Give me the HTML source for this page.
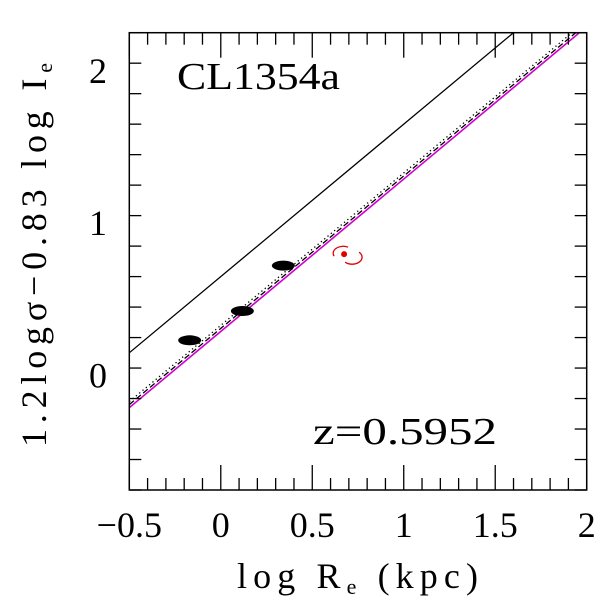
<!DOCTYPE html>
<html><head><meta charset="utf-8"><style>
html,body{margin:0;padding:0;background:#fff;width:600px;height:600px;overflow:hidden}
text{font-family:"Liberation Serif",serif;fill:#000}
</style></head><body>
<svg id="chart" width="600" height="600" viewBox="0 0 600 600" xmlns="http://www.w3.org/2000/svg">
<defs><clipPath id="clip"><rect x="129.3" y="32.7" width="457.4" height="457.3"/></clipPath></defs>
<g id="lines" clip-path="url(#clip)"></g>
<g id="pts"></g>
<g id="axes"></g>
<text x="177" y="89" font-size="38" textLength="163" lengthAdjust="spacingAndGlyphs">CL1354a</text>
<text x="313" y="444" font-size="38" textLength="184" lengthAdjust="spacingAndGlyphs">z=0.5952</text>
<text x="237" y="588" font-size="36" textLength="241" lengthAdjust="spacing">log R<tspan font-size="22" dy="6">e</tspan><tspan dy="-6"> (kpc)</tspan></text>
<text transform="translate(46,447) rotate(-90)" font-size="36" textLength="384" lengthAdjust="spacing">1.2logσ−0.83 log I<tspan font-size="22" dy="6">e</tspan></text>
</svg>
<script>
const xTicks=[-0.5,0,0.5,1,1.5,2];
const xTickLabels=["−0.5","0","0.5","1","1.5","2"];
const yTicks=[0,1,2];
const yTickLabels=["0","1","2"];
const lineOffsets=[0.65,0.33,0.31,0.29]; // y = x + offset
const lineStyles=["solid","dotted","dashed","magenta"];
const galX=[-0.17,0.118,0.342];
const galY=[0.232,0.424,0.722];
const spiralX=[0.674];
const spiralY=[0.797];
const X0=-0.5,X1=2.0,Y0=-0.75,Y1=2.25;
const L=129.3,R=586.7,T=32.7,B=490;
const sx=v=>L+(v-X0)/(X1-X0)*(R-L);
const sy=v=>B-(v-Y0)/(Y1-Y0)*(B-T);
const NS="http://www.w3.org/2000/svg";
function mk(tag,attrs,parent){const e=document.createElementNS(NS,tag);for(const k in attrs)e.setAttribute(k,attrs[k]);parent.appendChild(e);return e;}
const axes=document.getElementById('axes');
const lines=document.getElementById('lines');
const pts=document.getElementById('pts');
lineOffsets.forEach((o,i)=>{
  const st=lineStyles[i];
  const l=mk('line',{x1:sx(X0),y1:sy(X0+o),x2:sx(X1),y2:sy(X1+o),stroke:st==="magenta"?"#d000d0":"#000","stroke-width":st==="magenta"?1.6:1.3},lines);
  if(st==="dotted")l.setAttribute('stroke-dasharray','1.3 3');
  if(st==="dashed")l.setAttribute('stroke-dasharray','6 3');
  
  
});
galX.forEach((x,i)=>{
  const e=mk('ellipse',{cx:sx(x),cy:sy(galY[i]),rx:11.5,ry:5,fill:'#000'},pts);
  
  
});
spiralX.forEach((x,i)=>{
  const cx=sx(x),cy=sy(spiralY[i]);
  const g=mk('g',{},pts);
  
  
  mk('circle',{cx:cx,cy:cy,r:3,fill:'#e00000'},g);
  mk('path',{d:`M${cx-10},${cy+2} A10 7 0 0 1 ${cx+4},${cy-7}`,fill:'none',stroke:'#e00000','stroke-width':1.3},g);
  mk('path',{d:`M${cx+15},${cy-2} A10 7 0 0 1 ${cx+1},${cy+8}`,fill:'none',stroke:'#e00000','stroke-width':1.3},g);
});
const fr=mk('rect',{x:L,y:T,width:R-L,height:B-T,fill:'none',stroke:'#000','stroke-width':1.5},axes);


for(let k=0;k<=25;k++){const v=X0+k*0.1;const x=sx(v);const major=k%5===0;const len=major?25:12;
  mk('line',{x1:x,y1:B,x2:x,y2:B-len,stroke:'#000','stroke-width':1.3},axes);
  mk('line',{x1:x,y1:T,x2:x,y2:T+len,stroke:'#000','stroke-width':1.3},axes);}
for(let k=0;k<=15;k++){const v=Y0+k*0.2;const y=sy(v);const major=Math.abs(v-Math.round(v))<1e-6;const len=major?25:12;
  mk('line',{x1:L,y1:y,x2:L+len,y2:y,stroke:'#000','stroke-width':1.3},axes);
  mk('line',{x1:R,y1:y,x2:R-len,y2:y,stroke:'#000','stroke-width':1.3},axes);}
xTicks.forEach((v,i)=>{const t=mk('text',{x:sx(v),y:537,'font-size':36,'text-anchor':'middle'},axes);t.textContent=xTickLabels[i];
  
  });
yTicks.forEach((v,i)=>{const t=mk('text',{x:98,y:sy(v)+12,'font-size':36,'text-anchor':'middle'},axes);t.textContent=yTickLabels[i];
  
  });
</script>
</body></html>
